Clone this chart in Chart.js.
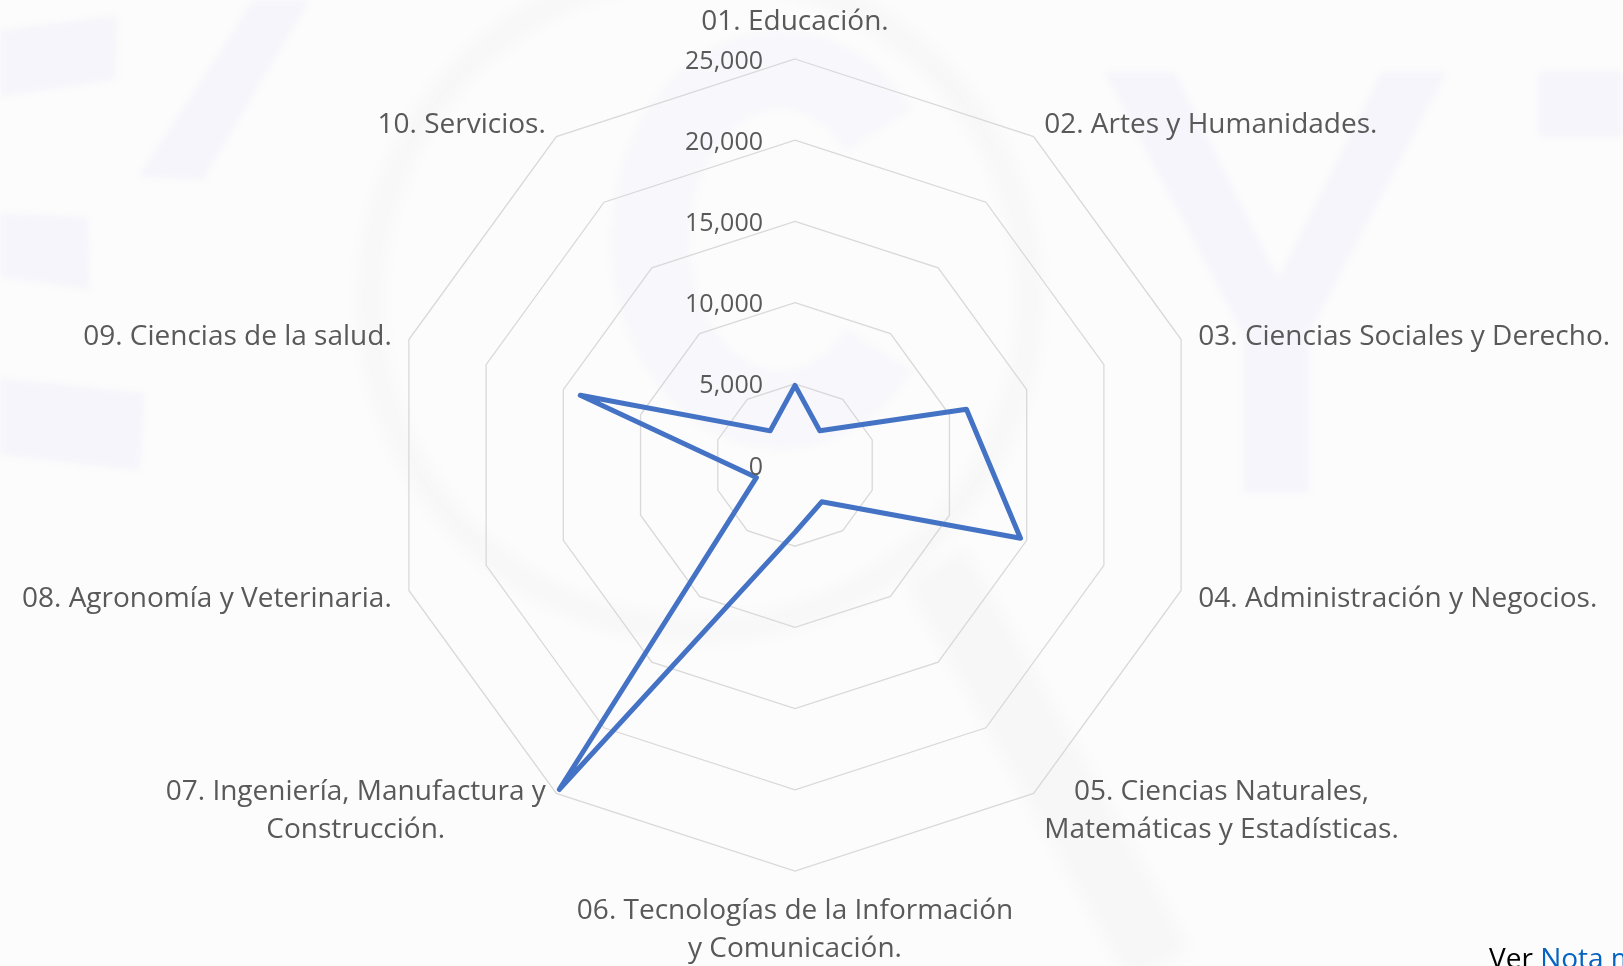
<!DOCTYPE html>
<html>
<head>
<meta charset="utf-8">
<script src="https://cdn.jsdelivr.net/npm/chart.js@4.4.1/dist/chart.umd.min.js"></script>
<style>
  html, body { margin: 0; padding: 0; background: #fcfcfc; overflow: hidden; }
  #wrap { position: relative; width: 1623px; height: 966px; }
  canvas { display: block; }
</style>
</head>
<body>
<div id="wrap"><canvas id="c" width="1623" height="966"></canvas></div>
<script>
// ---- data ----
const categories = [
  "01. Educación.",
  "02. Artes y Humanidades.",
  "03. Ciencias Sociales y Derecho.",
  "04. Administración y Negocios.",
  ["05. Ciencias Naturales,", "Matemáticas y Estadísticas."],
  ["06. Tecnologías de la Información", "y Comunicación."],
  ["07. Ingeniería, Manufactura y", "Construcción."],
  "08. Agronomía y Veterinaria.",
  "09. Ciencias de la salud.",
  "10. Servicios."
];
const seriesName = "Total";
const values = [4900, 2600, 11100, 14600, 2800, 4150, 24700, 2500, 13900, 2600];
const tickValues = [0, 5000, 10000, 15000, 20000, 25000];
const tickLabels = ["0", "5,000", "10,000", "15,000", "20,000", "25,000"];
const footnoteParts = ["Ver ", "Nota m"];

// ---- styles ----
const FONT = "'Open Sans', sans-serif";
const TEXT = "#595959";

const watermark = {
  id: "watermark",
  beforeDraw(chart) {
    const ctx = chart.ctx;
    ctx.save();
    ctx.fillStyle = "#fcfcfc";
    ctx.fillRect(0, 0, chart.width, chart.height);
    const lav = "rgba(140,120,230,0.05)";
    const poly = (pts) => {
      ctx.beginPath();
      pts.forEach((p, k) => k ? ctx.lineTo(p[0], p[1]) : ctx.moveTo(p[0], p[1]));
      ctx.closePath();
      ctx.fill();
    };
    ctx.filter = "blur(3px)";
    ctx.fillStyle = lav;
    poly([[0,30],[118,15],[115,80],[0,97]]);
    poly([[0,213],[88,217],[90,290],[0,277]]);
    poly([[0,378],[145,393],[140,471],[0,455]]);
    poly([[138,177],[203,180],[310,0],[253,0]]);
    poly([[1104,72],[1175,72],[1278,278],[1381,72],[1447,72],[1309,334],[1309,493],[1243,493],[1243,334]]);
    poly([[1538,71],[1623,71],[1623,137],[1538,137]]);
    // big C
    ctx.strokeStyle = "rgba(140,120,230,0.035)";
    ctx.lineWidth = 80;
    ctx.beginPath();
    ctx.ellipse(780, 240, 130, 170, 0, Math.PI * 40 / 180, Math.PI * 320 / 180);
    ctx.stroke();
    // grey lens + handle
    ctx.filter = "blur(8px)";
    ctx.strokeStyle = "rgba(0,0,0,0.018)";
    ctx.lineWidth = 24;
    ctx.beginPath();
    ctx.arc(700, 300, 330, 0, Math.PI * 2);
    ctx.stroke();
    ctx.strokeStyle = "rgba(0,0,0,0.02)";
    ctx.lineWidth = 70;
    ctx.beginPath();
    ctx.moveTo(935, 565);
    ctx.lineTo(1160, 966);
    ctx.stroke();
    ctx.restore();
  }
};

const tickLabelPlugin = {
  id: "tickLabelPlugin",
  afterDatasetsDraw(chart) {
    const s = chart.scales.r;
    const ctx = chart.ctx;
    ctx.save();
    ctx.font = "25px " + FONT;
    ctx.fillStyle = TEXT;
    ctx.textAlign = "right";
    ctx.textBaseline = "alphabetic";
    tickValues.forEach((v, i) => {
      const d = s.getDistanceFromCenterForValue(v);
      ctx.fillText(tickLabels[i], s.xCenter - 32, s.yCenter - d + 9.5);
    });
    ctx.restore();
  }
};

const pointLabelPlugin = {
  id: "pointLabelPlugin",
  afterDraw(chart) {
    const s = chart.scales.r;
    const ctx = chart.ctx;
    const fs = 28, L = 38, A = 30;
    ctx.save();
    ctx.font = fs + "px " + FONT;
    ctx.fillStyle = TEXT;
    ctx.textAlign = "center";
    ctx.textBaseline = "alphabetic";
    categories.forEach((lab, i) => {
      const lines = Array.isArray(lab) ? lab : [lab];
      const probe = s.getPointPosition(i, s.drawingArea);
      const sn = Math.sin(probe.angle), c = Math.cos(probe.angle);
      const pad = (Math.abs(c) < 1e-3 && sn < 0) ? 21 : 18;
      const p = s.getPointPosition(i, s.drawingArea + pad);
      const W = Math.max(...lines.map(t => ctx.measureText(t).width));
      const H = lines.length * L;
      let left, top;
      if (Math.abs(c) < 1e-3) {
        left = p.x - W / 2;
        top = sn < 0 ? p.y - H : p.y;
      } else {
        left = c > 0 ? p.x : p.x - W;
        top = p.y - H / 2;
      }
      lines.forEach((t, k) => ctx.fillText(t, left + W / 2, top + k * L + A));
    });
    // footnote
    ctx.textAlign = "left";
    ctx.fillStyle = "#000000";
    ctx.fillText(footnoteParts[0], 1489, 968);
    const w0 = ctx.measureText(footnoteParts[0]).width;
    ctx.fillStyle = "#0563C1";
    ctx.fillText(footnoteParts[1], 1489 + w0, 968);
    ctx.restore();
  }
};

new Chart(document.getElementById("c"), {
  type: "radar",
  data: {
    labels: categories,
    datasets: [{
      label: seriesName,
      data: values,
      borderColor: "#4472C4",
      borderWidth: 5,
      borderJoinStyle: "round",
      borderCapStyle: "round",
      pointRadius: 0,
      pointHoverRadius: 0,
      fill: false,
      tension: 0
    }]
  },
  options: {
    responsive: false,
    devicePixelRatio: 1,
    animation: false,
    layout: { padding: { left: 389, right: 422, top: 59, bottom: 95 } },
    plugins: { legend: { display: false }, tooltip: { enabled: false } },
    scales: {
      r: {
        min: 0,
        max: 25000,
        ticks: { stepSize: 5000, display: false },
        grid: { color: "#d9d9d9", lineWidth: 1.3 },
        angleLines: { display: false },
        pointLabels: { display: false }
      }
    }
  },
  plugins: [watermark, tickLabelPlugin, pointLabelPlugin]
});
</script>
</body>
</html>
